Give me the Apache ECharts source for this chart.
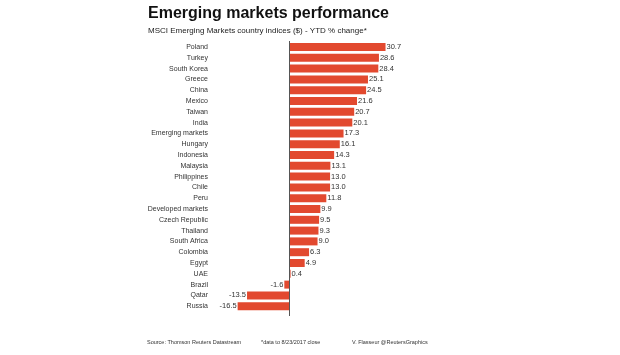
<!DOCTYPE html>
<html><head><meta charset="utf-8">
<script src="https://cdn.jsdelivr.net/npm/echarts@6/dist/echarts.min.js"></script>
<style>html,body{margin:0;padding:0;background:#fff}#c{width:620px;height:355px}</style>
</head><body><div id="c"></div>
<script>
var categories = ["Poland","Turkey","South Korea","Greece","China","Mexico","Taiwan","India","Emerging markets","Hungary","Indonesia","Malaysia","Philippines","Chile","Peru","Developed markets","Czech Republic","Thailand","South Africa","Colombia","Egypt","UAE","Brazil","Qatar","Russia"];
var values = [30.7,28.6,28.4,25.1,24.5,21.6,20.7,20.1,17.3,16.1,14.3,13.1,13.0,13.0,11.8,9.9,9.5,9.3,9.0,6.3,4.9,0.4,-1.6,-13.5,-16.5];
var titleText = "Emerging markets performance";
var subtitleText = "MSCI Emerging Markets country indices ($) - YTD % change*";
var footer = ["Source: Thomson Reuters Datastream","*data to 8/23/2017 close","V. Flasseur @ReutersGraphics"];
var F = "Liberation Sans, Arial, sans-serif";
var chart = echarts.init(document.getElementById('c'));
chart.setOption({
  animation:false,
  title:{text:titleText, subtext:subtitleText, left:143, top:1, itemGap:5,
    textStyle:{fontFamily:F,fontSize:16,fontWeight:'bold',color:'#111'},
    subtextStyle:{fontFamily:F,fontSize:8,color:'#222'}},
  grid:{left:211, right:620-399, top:41.6, height:270},
  xAxis:{type:'value', min:-25, max:35, show:false},
  yAxis:{type:'category', inverse:true, data:categories,
    axisLine:{show:false}, axisTick:{show:false},
    axisLabel:{fontFamily:F,fontSize:7,color:'#333',margin:3}},
  series:[{type:'bar', data:values.map(function(v){return {value:v,label:{position:v<0?'left':'right'}};}),
    barWidth:8, itemStyle:{color:'#e2492f'},
    label:{show:true, fontFamily:F, fontSize:7.5, color:'#333', distance:1, formatter:function(p){return p.value.toFixed(1);}},
    markLine:{silent:true, symbol:'none', label:{show:false}, lineStyle:{color:'#555',width:1,type:'solid'},
      data:[[{coord:[0,categories[0]], y:41}, {coord:[0,categories[0]], y:316}]]}
  }],
  graphic:[
    {type:'text', left:147, top:339, style:{text:footer[0], font:'5.5px '+F, fill:'#333'}},
    {type:'text', left:261, top:339, style:{text:footer[1], font:'5.5px '+F, fill:'#333'}},
    {type:'text', left:352, top:339, style:{text:footer[2], font:'5.5px '+F, fill:'#333'}}
  ]
});
</script></body></html>
